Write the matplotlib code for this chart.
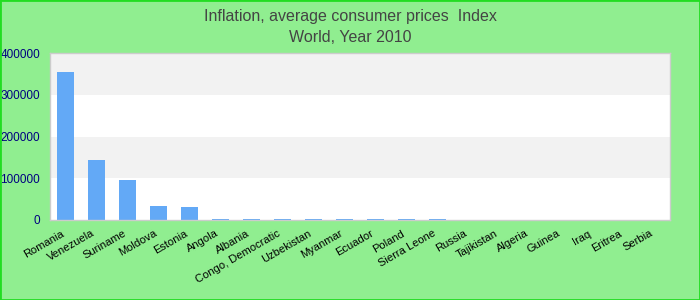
import matplotlib
matplotlib.use("Agg")
import matplotlib.pyplot as plt
from matplotlib.patches import Rectangle
from matplotlib.transforms import ScaledTranslation

plt.rcParams['font.family'] = ['Liberation Sans', 'DejaVu Sans']

categories = ["Romania", "Venezuela", "Suriname", "Moldova", "Estonia", "Angola",
              "Albania", "Congo, Democratic", "Uzbekistan", "Myanmar", "Ecuador",
              "Poland", "Sierra Leone", "Russia", "Tajikistan", "Algeria", "Guinea",
              "Iraq", "Eritrea", "Serbia"]
values = [354000, 144000, 96000, 34000, 31500, 2600, 2400, 2300, 2200, 2100, 2000,
          1900, 1800, 0, 0, 0, 0, 0, 0, 0]
yticks = [0, 100000, 200000, 300000, 400000]

fig = plt.figure(figsize=(7, 3), dpi=100, facecolor="#90ee90")
ax = fig.add_axes([50/700, 1-220/300, 620/700, 167/300])
ax.set_facecolor("white")

for i, lo in enumerate(yticks[:-1]):
    if i % 2 == 1:
        ax.axhspan(lo, yticks[i+1], color="#f2f2f2", zorder=0, lw=0)

x = range(len(categories))
ax.bar(x, values, width=0.55, color="#63a9f6", zorder=2)
ax.set_xlim(-0.5, len(categories) - 0.5)
ax.set_ylim(0, 400000)
ax.set_yticks(yticks)
ax.set_yticklabels([str(v) for v in yticks], color="#000080", fontsize=8.5)
ax.set_xticks(list(x))
ax.set_xticklabels(categories, rotation=30, ha="right", rotation_mode="anchor", fontsize=8)
ax.tick_params(axis="both", length=0)
ax.tick_params(axis="y", pad=7)
ax.tick_params(axis="x", pad=6)
shift = ScaledTranslation(-5/100, 0, fig.dpi_scale_trans)
for lbl in ax.get_xticklabels():
    lbl.set_transform(lbl.get_transform() + shift)
for s in ax.spines.values():
    s.set_color("#cccccc")
    s.set_linewidth(1)

fig.text(0.5, 1-17/300, "Inflation, average consumer prices  Index", ha="center", va="center",
         fontsize=11.5, color="#444444")
fig.text(0.5, 1-37/300, "World, Year 2010", ha="center", va="center",
         fontsize=11.5, color="#444444")

fig.patches.append(Rectangle((0, 0), 1, 1, transform=fig.transFigure, fill=False,
                             edgecolor="#22dd22", linewidth=2))
fig.savefig("out.png", dpi=100, facecolor=fig.get_facecolor())
